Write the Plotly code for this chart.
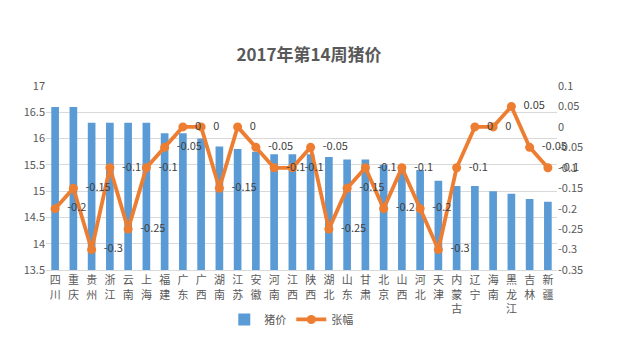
import plotly.graph_objects as go

categories = ["四川", "重庆", "贵州", "浙江", "云南", "上海", "福建", "广东", "广西", "湖南",
              "江苏", "安徽", "河南", "江西", "陕西", "湖北", "山东", "甘肃", "北京", "山西",
              "河北", "天津", "内蒙古", "辽宁", "海南", "黑龙江", "吉林", "新疆"]
price = [16.6, 16.6, 16.3, 16.3, 16.3, 16.3, 16.1, 16.1, 16.0, 15.85,
         15.8, 15.75, 15.7, 15.7, 15.7, 15.65, 15.6, 15.6, 15.5, 15.45,
         15.4, 15.2, 15.1, 15.1, 15.0, 14.95, 14.85, 14.8]
change = [-0.2, -0.15, -0.3, -0.1, -0.25, -0.1, -0.05, 0, 0, -0.15,
          0, -0.05, -0.1, -0.1, -0.05, -0.25, -0.15, -0.1, -0.2, -0.1,
          -0.2, -0.3, -0.1, 0, 0, 0.05, -0.05, -0.1]
left_ticks = [13.5, 14, 14.5, 15, 15.5, 16, 16.5, 17]
right_ticks = [-0.35, -0.3, -0.25, -0.2, -0.15, -0.1, -0.05, 0, 0.05, 0.1]

def fmt(v):
    s = ("%g" % round(v, 2))
    return "0" if s in ("-0", "0") else s

xlabels = ["<br>".join(list(c)) for c in categories]
FONT = "Noto Sans CJK SC"

fig = go.Figure()
fig.add_trace(go.Bar(
    x=xlabels, y=price, name="猪价",
    marker=dict(color="#5B9BD5", line=dict(width=0)),
    width=0.42, yaxis="y",
))
fig.add_trace(go.Scatter(
    x=xlabels, y=change, name="张幅", yaxis="y2",
    mode="lines+markers+text",
    line=dict(color="#ED7D31", width=3.8),
    marker=dict(color="#ED7D31", size=9),
    text=["\u2002" + fmt(v) for v in change], textposition="middle right",
    textfont=dict(family=FONT, size=11, color="#404040"),
    cliponaxis=False,
))

fig.update_layout(
    width=618, height=354,
    margin=dict(l=46, r=61, t=86, b=84),
    paper_bgcolor="white", plot_bgcolor="white",
    font=dict(family=FONT, color="#595959", size=11),
    title=dict(text="<b>2017年第14周猪价</b>", x=0.5, xanchor="center", y=0.845, yanchor="middle",
               font=dict(family=FONT, size=17, color="#595959")),
    showlegend=True,
    legend=dict(orientation="h", x=0.48, xanchor="center", y=-0.19, yanchor="top",
                font=dict(family=FONT, size=11, color="#595959"), itemwidth=30),
    bargap=0.5,
    xaxis=dict(type="category", range=[-0.5, len(categories) - 0.5], tickangle=0,
               tickfont=dict(size=11, color="#595959"),
               showgrid=False, showline=True, linecolor="#d9d9d9", ticks="",
               automargin=False),
    yaxis=dict(range=[13.5, 17], tickvals=left_ticks, ticktext=[fmt(v) for v in left_ticks],
               showgrid=True, gridcolor="#d9d9d9", gridwidth=1, zeroline=False,
               showline=False, ticks="", tickfont=dict(size=11, color="#595959"),
               automargin=False),
    yaxis2=dict(range=[-0.35, 0.1], overlaying="y", side="right",
                tickvals=right_ticks, ticktext=[fmt(v) for v in right_ticks],
                showgrid=False, zeroline=False, showline=False, ticks="",
                tickfont=dict(size=11, color="#595959"), automargin=False),
)

fig.write_html("out.html")
